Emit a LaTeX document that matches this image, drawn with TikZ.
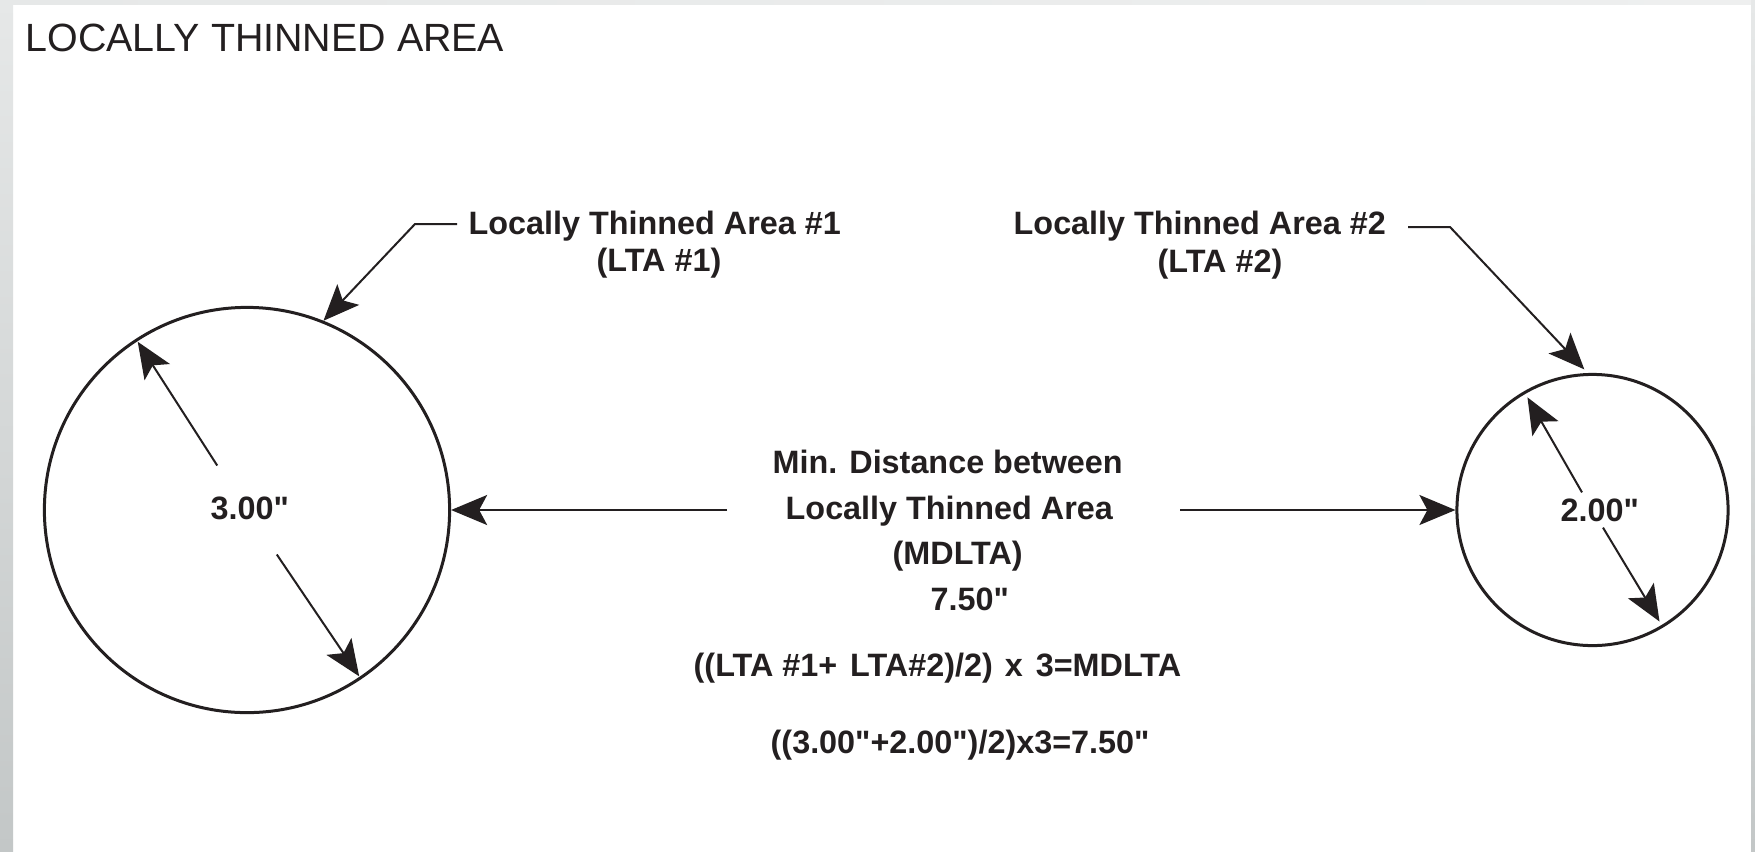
\documentclass[tikz,border=0pt]{standalone}
\usepackage{fontspec}
\setmainfont{Liberation Sans}[Ligatures=TeXOff]
\usetikzlibrary{arrows.meta,calc}

\definecolor{ink}{RGB}{35,31,32}
\definecolor{edgeTop}{RGB}{230,232,232}
\definecolor{edgeBot}{RGB}{195,199,199}
\definecolor{rimLight}{RGB}{238,239,239}

\begin{document}
\begin{tikzpicture}[x=0.01cm,y=-0.01cm,
  ring/.style={circle, draw=ink, line width=0.03cm, inner sep=0pt},
  dimarrow/.style={draw=ink, line width=0.02cm,
    -{Stealth[length=0.36cm,width=0.30cm,inset=0.08cm]}},
  label/.style={inner sep=0pt, anchor=base west, text=ink,
    font=\fontsize{9.2pt}{11pt}\selectfont\bfseries},
  heading/.style={inner sep=0pt, anchor=base west, text=ink,
    font=\fontsize{11.2pt}{13pt}\selectfont}]

% page and frame
\useasboundingbox (0,0) rectangle (1755,851);
\fill[white] (0,0) rectangle (1755,851);
\shade[top color=edgeTop, bottom color=edgeBot] (0,0) rectangle (13,851);
\shade[top color=edgeTop, bottom color=edgeBot] (1751,0) rectangle (1755,851);
\shade[left color=edgeTop, right color=rimLight] (13,0) rectangle (1751,4.5);

% title
\node[heading] (title) at (25,51) {LOCALLY THINNED AREA};

% the two thinned areas
\node[ring, minimum size=4.05cm] (lta1) at (247,510) {};
\node[ring, minimum size=2.71cm] (lta2) at (1592.5,510) {};

% diameter of LTA #1
\coordinate (d1a) at ($(lta1.center)+(123.8:0.535cm)$);
\coordinate (d1b) at ($(lta1.center)+(-56.2:0.535cm)$);
\draw[dimarrow, shorten >=0.035cm] (d1a) -- (lta1.123.8);
\draw[dimarrow, shorten >=0.035cm] (d1b) -- (lta1.-56.2);
\node[label] (dia1) at (210,519) {3.00"};

% diameter of LTA #2
\coordinate (d2a) at ($(lta2.center)+(120.8:0.205cm)$);
\coordinate (d2b) at ($(lta2.center)+(-59.2:0.205cm)$);
\draw[dimarrow, shorten >=0.07cm] (d2a) -- (lta2.120.8);
\draw[dimarrow, shorten >=0.07cm] (d2b) -- (lta2.-59.2);
\node[label] (dia2) at (1560,521) {2.00"};

% callout for LTA #1
\node[label] (n1a) at (468,234) {Locally Thinned Area \#1};
\node[label] (n1b) at (596,271) {(LTA \#1)};
\coordinate (c1s) at (457,224);
\coordinate (c1k) at (415,224);
\draw[dimarrow] (c1s) -- (c1k) -- (lta1.68);

% callout for LTA #2
\node[label] (n2a) at (1013,234) {Locally Thinned Area \#2};
\node[label] (n2b) at (1157,272) {(LTA \#2)};
\coordinate (c2s) at (1408,227);
\coordinate (c2k) at (1450,227);
\draw[dimarrow, shorten >=0.05cm] (c2s) -- (c2k) -- (lta2.92);

% minimum distance between the areas
\node[label] (m1) at (772,473) {Min. Distance between};
\node[label] (m2) at (785,519) {Locally Thinned Area};
\node[label] (m3) at (892,564) {(MDLTA)};
\node[label] (m4) at (930,610) {7.50"};
\coordinate (ml) at (727,510);
\coordinate (mr) at (1180,510);
\draw[dimarrow] (ml) -- (lta1.east);
\draw[dimarrow] (mr) -- (lta2.west);

% rule and worked example
\node[label] (f1) at (693,676)
  {((LTA \#1+\hspace{0.13cm}LTA\#2)/2)\hspace{0.12cm}x\hspace{0.13cm}3=MDLTA};
\node[label] (f2) at (770,753) {((3.00"+2.00")/2)x3=7.50"};

\end{tikzpicture}
\end{document}
